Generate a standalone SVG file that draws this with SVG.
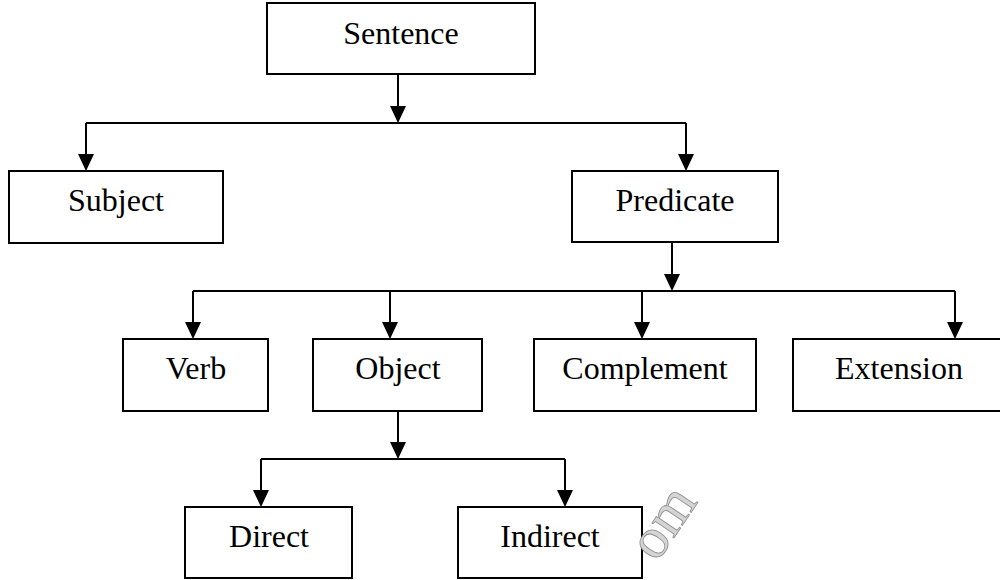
<svg xmlns="http://www.w3.org/2000/svg" width="1000" height="580" viewBox="0 0 1000 580">
  <style>
    .box { fill: #ffffff; stroke: #000000; stroke-width: 2; }
    .label { font-family: "Liberation Serif", "Times New Roman", serif; font-size: 32px; fill: #000000; text-anchor: middle; }
    .wire { fill: none; stroke: #000000; stroke-width: 2; }
    .arrow { fill: none; stroke: #000000; stroke-width: 2; marker-end: url(#head); }
    .mark { font-family: "Liberation Serif", "Times New Roman", serif; font-size: 58px; fill: #d4d4d4; stroke: #8a8a8a; stroke-width: 0.8; }
  </style>
  <defs>
    <marker id="head" viewBox="0 0 16 17" refX="8" refY="17" markerWidth="16" markerHeight="17" markerUnits="userSpaceOnUse" orient="auto-start-reverse">
      <path d="M0,0 L16,0 L8,17 Z" fill="#000000"/>
    </marker>
  </defs>
  <rect width="1000" height="580" fill="#ffffff"/>

  <!-- tree connectors -->
  <g id="connectors">
    <!-- Sentence -> Subject / Predicate -->
    <path class="wire" d="M86,123 L686,123"/>
    <path class="wire" d="M398,74 L398,106"/>
    <path d="M390,106 L406,106 L398,123 Z" fill="#000"/>
    <path class="wire" d="M86,123 L86,154"/>
    <path d="M78,154 L94,154 L86,171 Z" fill="#000"/>
    <path class="wire" d="M686,123 L686,154"/>
    <path d="M678,154 L694,154 L686,171 Z" fill="#000"/>

    <!-- Predicate -> Verb / Object / Complement / Extension -->
    <path class="wire" d="M193,291 L955,291"/>
    <path class="wire" d="M672,242 L672,274"/>
    <path d="M664,274 L680,274 L672,291 Z" fill="#000"/>
    <path class="wire" d="M193,291 L193,322"/>
    <path d="M185,322 L201,322 L193,339 Z" fill="#000"/>
    <path class="wire" d="M390,291 L390,322"/>
    <path d="M382,322 L398,322 L390,339 Z" fill="#000"/>
    <path class="wire" d="M642,291 L642,322"/>
    <path d="M634,322 L650,322 L642,339 Z" fill="#000"/>
    <path class="wire" d="M955,291 L955,322"/>
    <path d="M947,322 L963,322 L955,339 Z" fill="#000"/>

    <!-- Object -> Direct / Indirect -->
    <path class="wire" d="M261,459 L565,459"/>
    <path class="wire" d="M398,411 L398,442"/>
    <path d="M390,442 L406,442 L398,459 Z" fill="#000"/>
    <path class="wire" d="M261,459 L261,490"/>
    <path d="M253,490 L269,490 L261,507 Z" fill="#000"/>
    <path class="wire" d="M565,459 L565,490"/>
    <path d="M557,490 L573,490 L565,507 Z" fill="#000"/>
  </g>

  <g id="sentence">
    <rect class="box" x="267" y="3" width="268" height="71"/>
    <text class="label" x="401" y="44">Sentence</text>
  </g>
  <g id="subject">
    <rect class="box" x="9" y="171" width="214" height="72"/>
    <text class="label" x="116" y="211">Subject</text>
  </g>
  <g id="predicate">
    <rect class="box" x="572" y="171" width="206" height="71"/>
    <text class="label" x="675" y="211">Predicate</text>
  </g>
  <g id="verb">
    <rect class="box" x="123" y="339" width="145" height="72"/>
    <text class="label" x="196" y="379">Verb</text>
  </g>
  <g id="object">
    <rect class="box" x="313" y="339" width="169" height="72"/>
    <text class="label" x="398" y="379">Object</text>
  </g>
  <g id="complement">
    <rect class="box" x="534" y="339" width="222" height="72"/>
    <text class="label" x="645" y="379">Complement</text>
  </g>
  <g id="extension">
    <rect class="box" x="793" y="339" width="212" height="72"/>
    <text class="label" x="899" y="379">Extension</text>
  </g>
  <g id="direct">
    <rect class="box" x="185" y="507" width="167" height="71"/>
    <text class="label" x="269" y="547">Direct</text>
  </g>
  <g id="indirect">
    <rect class="box" x="458" y="507" width="184" height="71"/>
    <text class="label" x="550" y="547">Indirect</text>
  </g>

  <!-- faint watermark letters -->
  <text class="mark" transform="translate(657,563) rotate(-56)">om</text>
</svg>
